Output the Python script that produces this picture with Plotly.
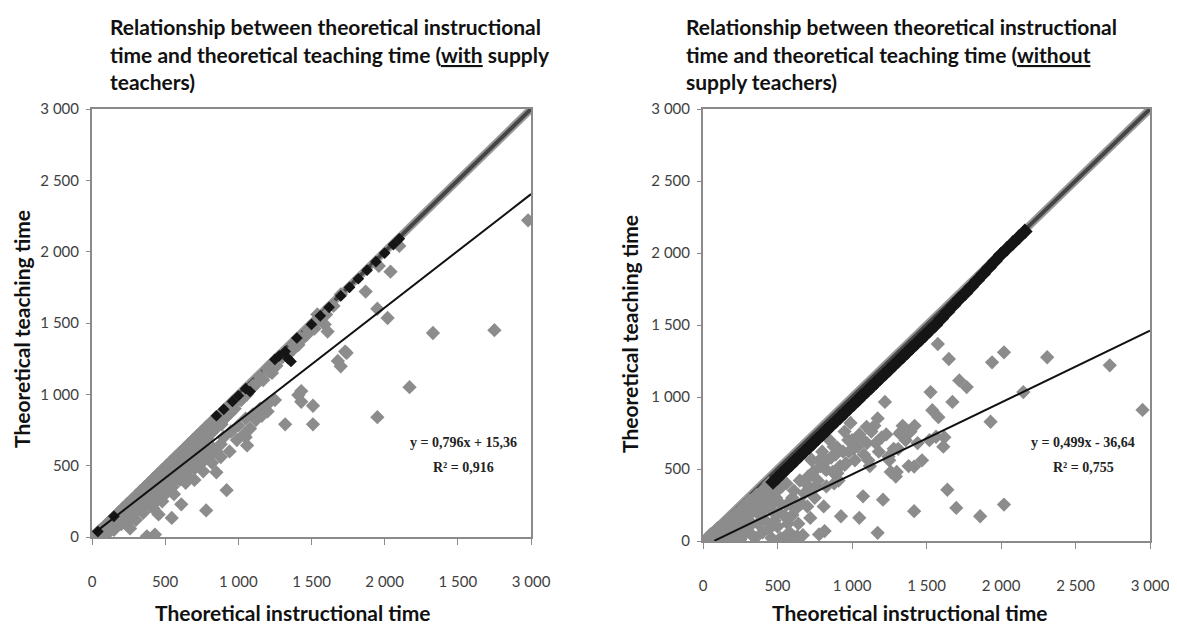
import plotly.graph_objects as go

# ---------------- data ----------------
axis_max = 3000
tick_vals = [0, 500, 1000, 1500, 2000, 2500, 3000]
x_ticktext_left = ["0", "500", "1 000", "1 500", "2 000", "1 500", "3 000"]
x_ticktext_right = ["0", "500", "1 000", "1 500", "2 000", "2 500", "3 000"]
y_ticktext = ["0", "500", "1 000", "1 500", "2 000", "2 500", "3 000"]

# Left chart (with supply teachers)
left_gray_x = [10, 30, 50, 60, 80, 90, 110, 120, 140, 150, 170, 180, 200, 210, 230, 240, 260, 270, 290, 300,
               320, 330, 350, 360, 380, 390, 410, 420, 440, 450, 470, 480, 500, 510, 530, 540, 560, 570, 590, 600,
               620, 630, 650, 660, 680, 690, 710, 720, 740, 750, 770, 780, 800, 810, 830, 850, 880, 900, 930, 960,
               100, 150, 200, 250, 280, 300, 330, 350, 380, 400, 420, 450, 470, 500, 520, 550, 570, 600, 620, 650,
               680, 700, 720, 750, 780, 800, 830, 850, 880, 900, 950, 1000, 1050, 1100, 1150, 1200,
               1000, 1100, 1150, 1200, 1230, 1380, 1420, 1480, 1520, 1540, 1590, 1610, 1650, 1700, 1730, 1680,
               1870, 1950, 2020, 2040, 2100, 1960, 1410, 1220, 1430,
               2170, 1950, 1510, 1510, 1320, 1410, 1430, 1250, 1060, 1050, 920, 850, 780, 545, 610, 375, 430, 455,
               1700, 1740, 2330, 2750, 2980,
               25, 45, 70, 95, 115, 135, 160, 185, 205, 225, 245, 265, 285, 305, 325, 345, 365, 385, 405, 425,
               445, 465, 485, 505, 525, 545, 565, 585, 605, 625, 645, 665, 685, 705, 725, 745, 765, 785, 805, 825,
               845, 865, 885, 905, 925, 945, 975, 990, 1020, 1060, 1090, 1130, 1170, 1210, 1260, 1300, 1340, 1380,
               1430, 1470, 1520, 1560, 1600,
               420, 480, 560, 640, 700, 760, 820, 880, 940, 990, 1040, 1080, 1120, 1160, 1200,
               130, 180, 230, 300, 350, 400, 450, 500, 550, 600, 650, 700, 750, 800, 60, 120, 260]
left_gray_y = [5, 20, 10, 50, 30, 80, 60, 110, 90, 140, 120, 170, 150, 200, 180, 230, 200, 260, 240, 290,
               260, 320, 300, 350, 330, 380, 360, 410, 390, 440, 420, 470, 450, 500, 480, 530, 510, 560, 540, 590,
               570, 620, 600, 650, 630, 680, 660, 710, 690, 740, 720, 770, 750, 800, 780, 830, 860, 880, 900, 940,
               20, 50, 90, 110, 160, 120, 200, 170, 240, 220, 280, 260, 330, 300, 380, 350, 420, 400, 460, 430,
               500, 480, 540, 520, 580, 560, 620, 600, 650, 700, 740, 780, 830, 860, 900, 930,
               980, 1060, 1120, 1180, 1150, 1350, 1400, 1450, 1500, 1560, 1490, 1440, 1620, 1700, 1300, 1234,
               1720, 1600, 1535, 1860, 2040, 1900, 1346, 1206, 1023,
               1050, 840, 790, 920, 790, 995, 948, 960, 642, 700, 328, 453, 186, 134, 229, 5, 17, 158,
               1196, 1290, 1430, 1450, 2220,
               15, 40, 45, 70, 95, 100, 130, 140, 175, 160, 215, 220, 210, 270, 280, 270, 320, 300, 350, 340,
               400, 380, 430, 410, 460, 470, 480, 520, 530, 520, 580, 560, 610, 600, 650, 640, 700, 690, 720, 740,
               760, 800, 790, 830, 850, 870, 900, 950, 960, 1000, 1040, 1080, 1100, 1160, 1200, 1260, 1280, 1320,
               1380, 1420, 1460, 1520, 1560,
               200, 250, 300, 380, 400, 460, 520, 560, 600, 680, 720, 760, 820, 850, 880,
               70, 100, 140, 180, 230, 260, 300, 340, 380, 430, 470, 510, 560, 600, 15, 40, 60]
left_black_x = [40, 150, 850, 900, 960, 1000, 1050, 1080, 1250, 1280, 1320, 1340, 1360, 1400, 1500, 1560,
                1620, 1700, 1760, 1820, 1880, 1940, 2000, 2060, 2100]
left_black_y = [38, 145, 850, 895, 950, 990, 1040, 1020, 1245, 1270, 1300, 1250, 1230, 1395, 1490, 1550,
                1610, 1690, 1750, 1810, 1870, 1930, 1990, 2050, 2090]

# Right chart (without supply teachers)
right_gray_x = [20, 40, 60, 80, 100, 100, 120, 140, 150, 160, 180, 200, 200, 220, 240, 250, 260, 270, 290, 300,
                310, 330, 340, 350, 360, 380, 390, 400, 410, 420, 430, 440, 450, 460, 470, 480, 500, 500, 520, 540,
                550, 560, 580, 600, 620, 640, 650, 680, 700, 720, 740, 760, 780, 800, 820, 850, 860, 880, 900, 920,
                950, 980, 1000, 1020, 1050, 1080, 1100, 1120, 1150, 1180, 1200, 1250, 1280, 1300, 1340, 1360,
                2950, 2730, 2310, 2150, 2020, 1940, 2020, 1860, 1700, 1640, 1930, 1770, 1720, 1650, 1576, 1674,
                1613, 1564, 1527, 1539, 1417, 1392, 1417, 1319, 1294, 1245, 1208, 1221, 1172, 1172, 1074, 1049,
                1037, 951, 926, 779, 816, 877, 975, 730, 632, 559, 706, 828, 902, 1074, 1098, 828,
                30, 50, 70, 90, 110, 130, 150, 170, 190, 210, 230, 250, 270, 280, 300, 320, 330, 350, 370, 370,
                390, 400, 420, 430, 440, 460, 470, 480, 490, 510, 520, 530, 560, 570, 590, 600, 610, 630, 660, 670,
                690, 710, 730, 750, 770, 790, 810, 830, 870, 890, 910, 940, 960, 990, 1010, 1060, 1110, 1130, 1160,
                1230, 1260, 1310, 1330, 1380, 1420, 1440, 1470, 1520, 1580, 1620]
right_gray_y = [10, 30, 10, 60, 20, 90, 50, 120, 10, 80, 160, 40, 120, 190, 90, 10, 160, 240, 60, 200,
                280, 120, 240, 20, 320, 180, 280, 60, 360, 230, 130, 400, 310, 20, 200, 420, 100, 350, 260, 20,
                170, 400, 60, 300, 220, 120, 420, 330, 240, 160, 480, 380, 560, 620, 500, 700, 580, 400, 650, 520,
                760, 620, 700, 560, 740, 600, 680, 520, 800, 620, 720, 560, 640, 480, 800, 700,
                910, 1220, 1276, 1034, 1310, 1241, 253, 172, 230, 356, 828, 1069, 1115, 1264, 1368, 966,
                655, 724, 1034, 908, 207, 759, 517, 747, 448, 586, 287, 966, 57, 851, 310, 161,
                655, 529, 172, 46, 69, 655, 701, 563, 34, 23, 448, 379, 471, 701, 793, 494,
                20, 45, 30, 80, 40, 110, 70, 140, 100, 170, 130, 210, 150, 80, 250, 190, 40, 280, 220, 120,
                340, 160, 300, 380, 80, 250, 380, 140, 300, 200, 20, 380, 250, 120, 30, 180, 350, 20, 260, 40,
                400, 350, 560, 300, 420, 520, 240, 560, 480, 600, 420, 620, 540, 820, 640, 700, 560, 760, 680,
                740, 480, 640, 760, 520, 800, 680, 560, 700, 860, 720]
right_black_x = [470, 500, 530, 560, 590, 620, 650, 680, 710, 740, 770, 800, 830, 860, 890, 920, 950, 980,
                 1010, 1040, 1070, 1100, 1130, 1160, 1190, 1220, 1250, 1280, 1310, 1340, 1370, 1400, 1430, 1460,
                 1490, 1520, 1560, 1600, 1640, 1680, 1720, 1760, 1800, 1840, 1880, 1920, 1960, 2000, 2040, 2080,
                 2120, 2160]
right_black_y = [410, 440, 470, 500, 530, 560, 590, 620, 650, 680, 710, 740, 770, 800, 830, 860, 890, 920,
                 950, 980, 1010, 1040, 1070, 1100, 1130, 1160, 1190, 1220, 1250, 1280, 1310, 1340, 1370, 1400,
                 1430, 1460, 1500, 1545, 1590, 1635, 1680, 1720, 1765, 1810, 1855, 1900, 1945, 1990, 2030, 2070,
                 2110, 2150]

# regression lines
left_slope, left_intercept = 0.796, 15.36
right_slope, right_intercept = 0.499, -36.64
left_reg_x = [15, 3000]
right_reg_x = [75, 3000]
diag_x = [0, 3000]

left_title = ["Relationship between theoretical instructional",
              "time and theoretical teaching time (<u>with</u> supply",
              "teachers)"]
right_title = ["Relationship between theoretical instructional",
               "time and theoretical teaching time (<u>without</u>",
               "supply teachers)"]

# ---------------- figure ----------------
W, H = 1177, 625
GRAY = "#8c8c8c"
fig = go.Figure()


def add_panel(xa, ya, gx, gy, bx, by, reg_x, slope, intercept, bsize):
    fig.add_trace(go.Scatter(x=diag_x, y=diag_x, mode="lines", xaxis=xa, yaxis=ya,
                             line=dict(color="#9a9a9a", width=8), showlegend=False, hoverinfo="skip"))
    fig.add_trace(go.Scatter(x=diag_x, y=diag_x, mode="lines", xaxis=xa, yaxis=ya,
                             line=dict(color="#454545", width=4), showlegend=False, hoverinfo="skip"))
    fig.add_trace(go.Scatter(x=gx, y=gy, mode="markers", xaxis=xa, yaxis=ya,
                             marker=dict(symbol="diamond", size=11, color=GRAY, line=dict(width=0)),
                             showlegend=False, hoverinfo="skip"))
    fig.add_trace(go.Scatter(x=bx, y=by, mode="markers", xaxis=xa, yaxis=ya,
                             marker=dict(symbol="diamond", size=bsize, color="#151515", line=dict(width=0)),
                             showlegend=False, hoverinfo="skip"))
    fig.add_trace(go.Scatter(x=reg_x, y=[slope * v + intercept for v in reg_x], mode="lines",
                             xaxis=xa, yaxis=ya, line=dict(color="#111111", width=2),
                             showlegend=False, hoverinfo="skip"))


add_panel("x", "y", left_gray_x, left_gray_y, left_black_x, left_black_y,
          left_reg_x, left_slope, left_intercept, 9)
add_panel("x2", "y2", right_gray_x, right_gray_y, right_black_x, right_black_y,
          right_reg_x, right_slope, right_intercept, 12)

tick_font = dict(family="Lato", size=15, color="#404040")
common_x = dict(range=[0, axis_max], tickvals=tick_vals, showgrid=False, zeroline=False,
                showline=True, mirror=True, linecolor="#8a8a8a", linewidth=2,
                ticks="outside", ticklen=6, tickcolor="#8a8a8a", tickfont=tick_font,
                ticklabelstandoff=24, automargin=False)
common_y = dict(range=[0, axis_max], tickvals=tick_vals, ticktext=y_ticktext, showgrid=False, zeroline=False,
                showline=True, mirror=True, linecolor="#8a8a8a", linewidth=2,
                ticks="outside", ticklen=4, tickcolor="#8a8a8a", tickfont=tick_font,
                ticklabelstandoff=4, automargin=False)

fig.update_layout(
    width=W, height=H, margin=dict(l=0, r=0, t=0, b=0),
    paper_bgcolor="white", plot_bgcolor="white",
    xaxis=dict(domain=[84 / W, 523 / W], anchor="y", ticktext=x_ticktext_left, **common_x),
    yaxis=dict(domain=[1 - 529 / H, 1 - 101 / H], anchor="x", **common_y),
    xaxis2=dict(domain=[695 / W, 1142 / W], anchor="y2", ticktext=x_ticktext_right, **common_x),
    yaxis2=dict(domain=[1 - 533 / H, 1 - 101 / H], anchor="x2", **common_y),
)

annotations = []
title_font = dict(family="Lato", size=21, color="#111111")
for i, line in enumerate(left_title):
    annotations.append(dict(text="<b>" + line + "</b>", x=100 / W, y=1 - (19 + 27 * i) / H,
                            xref="paper", yref="paper", xanchor="left", yanchor="middle",
                            showarrow=False, font=title_font))
for i, line in enumerate(right_title):
    annotations.append(dict(text="<b>" + line + "</b>", x=676 / W, y=1 - (19 + 27 * i) / H,
                            xref="paper", yref="paper", xanchor="left", yanchor="middle",
                            showarrow=False, font=title_font))

axis_font = dict(family="Lato", size=21, color="#111111")
annotations += [
    dict(text="<b>Theoretical instructional time</b>", x=285 / W, y=1 - 604 / H, xref="paper", yref="paper",
         xanchor="center", yanchor="middle", showarrow=False, font=axis_font),
    dict(text="<b>Theoretical instructional time</b>", x=902 / W, y=1 - 604 / H, xref="paper", yref="paper",
         xanchor="center", yanchor="middle", showarrow=False, font=axis_font),
    dict(text="<b>Theoretical teaching time</b>", x=14 / W, y=1 - 321 / H, xref="paper", yref="paper",
         xanchor="center", yanchor="middle", showarrow=False, font=axis_font, textangle=-90),
    dict(text="<b>Theoretical teaching time</b>", x=622 / W, y=1 - 326 / H, xref="paper", yref="paper",
         xanchor="center", yanchor="middle", showarrow=False, font=axis_font, textangle=-90),
]

eq_font = dict(family="Liberation Serif", size=14, color="#222222")
annotations += [
    dict(text="<b>y = 0,796x + 15,36</b>", x=455 / W, y=1 - 435 / H, xref="paper", yref="paper",
         xanchor="center", yanchor="middle", showarrow=False, font=eq_font),
    dict(text="<b>R² = 0,916</b>", x=455 / W, y=1 - 459 / H, xref="paper", yref="paper",
         xanchor="center", yanchor="middle", showarrow=False, font=eq_font),
    dict(text="<b>y = 0,499x - 36,64</b>", x=1075 / W, y=1 - 435 / H, xref="paper", yref="paper",
         xanchor="center", yanchor="middle", showarrow=False, font=eq_font),
    dict(text="<b>R² = 0,755</b>", x=1075 / W, y=1 - 459 / H, xref="paper", yref="paper",
         xanchor="center", yanchor="middle", showarrow=False, font=eq_font),
]
fig.update_layout(annotations=annotations)

fig.write_html("out.html")
